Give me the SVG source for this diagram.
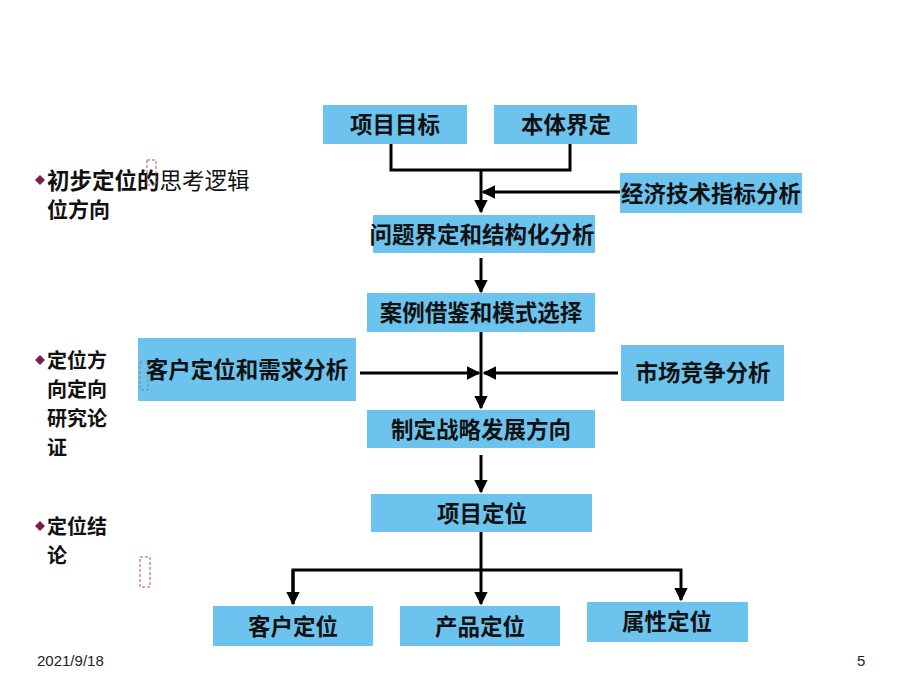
<svg xmlns="http://www.w3.org/2000/svg" width="920" height="690" viewBox="0 0 920 690">
<defs>
<style>
.box{fill:#6CC4EE}
.bt{font-family:"Liberation Sans","Noto Sans CJK SC",sans-serif;font-weight:bold;font-size:22.5px;fill:#111;text-anchor:middle}
.lt{font-family:"Liberation Sans","Noto Sans CJK SC",sans-serif;font-weight:bold;font-size:20px;fill:#111}
.ln{stroke:#000;stroke-width:3;fill:none}
.dash{fill:none;stroke:#C0504D;stroke-width:1;stroke-dasharray:3,2}
.ft{font-family:"Liberation Sans","Noto Sans CJK SC",sans-serif;font-size:15px;fill:#222}
</style>
<marker id="ah" viewBox="0 0 10 10" refX="9" refY="5" markerWidth="4.5" markerHeight="4.5" orient="auto" markerUnits="strokeWidth">
<path d="M0,0 L10,5 L0,10 z" fill="#000"/>
</marker>
</defs>
<rect width="920" height="690" fill="#fff"/>

<g id="connectors">
<path class="ln" d="M391,143 V170 H570 V143"/>
<path class="ln" d="M481,170 V212" marker-end="url(#ah)"/>
<path class="ln" d="M620,192 H483" marker-end="url(#ah)"/>
<path class="ln" d="M481,258 V292" marker-end="url(#ah)"/>
<path class="ln" d="M481,332 V408" marker-end="url(#ah)"/>
<path class="ln" d="M360,373 H479" marker-end="url(#ah)"/>
<path class="ln" d="M618,373 H484" marker-end="url(#ah)"/>
<path class="ln" d="M481,455 V492" marker-end="url(#ah)"/>
<path class="ln" d="M481,532 V604" marker-end="url(#ah)"/>
<path class="ln" d="M293,604 V570 H681 V600" marker-end="url(#ah)"/>
<path class="ln" d="M293,570 V604" marker-end="url(#ah)"/>
</g>

<g id="n-xiangmumubiao"><rect class="box" x="323" y="105" width="144" height="39"/><text class="bt" x="395" y="133">项目目标</text></g>
<g id="n-benti"><rect class="box" x="494" y="105" width="143" height="39"/><text class="bt" x="566" y="133">本体界定</text></g>
<g id="n-jingji"><rect class="box" x="620" y="173" width="182" height="40"/><text class="bt" x="711" y="202">经济技术指标分析</text></g>
<g id="n-wenti"><rect class="box" x="373" y="215" width="222" height="38"/><text class="bt" x="482" y="243">问题界定和结构化分析</text></g>
<g id="n-anli"><rect class="box" x="367" y="293" width="228" height="39"/><text class="bt" x="481" y="321">案例借鉴和模式选择</text></g>
<g id="n-kehufenxi"><rect class="box" x="138" y="338" width="218" height="63"/><text class="bt" x="247" y="378">客户定位和需求分析</text></g>
<g id="n-shichang"><rect class="box" x="621" y="345" width="163" height="56"/><text class="bt" x="703" y="381">市场竞争分析</text></g>
<g id="n-zhiding"><rect class="box" x="367" y="410" width="228" height="38"/><text class="bt" x="481" y="438">制定战略发展方向</text></g>
<g id="n-xiangmudingwei"><rect class="box" x="371" y="494" width="221" height="38"/><text class="bt" x="482" y="522">项目定位</text></g>
<g id="n-kehu"><rect class="box" x="213" y="606" width="160" height="40"/><text class="bt" x="293" y="635">客户定位</text></g>
<g id="n-chanpin"><rect class="box" x="400" y="606" width="160" height="40"/><text class="bt" x="480" y="635">产品定位</text></g>
<g id="n-shuxing"><rect class="box" x="587" y="602" width="161" height="40"/><text class="bt" x="667" y="630">属性定位</text></g>

<g id="left-notes">
<path d="M40,175 l5,5 l-5,5 l-5,-5 z" fill="#7A1E4E"/>
<text class="lt" x="47" y="189" style="font-size:22.5px">初步定位的<tspan style="font-weight:normal">思考逻辑</tspan></text>
<text class="lt" x="47" y="217" style="font-size:21px">位方向</text>
<path d="M40,355 l5,5 l-5,5 l-5,-5 z" fill="#7A1E4E"/>
<text class="lt" x="47" y="368">定位方</text>
<text class="lt" x="47" y="397">向定向</text>
<text class="lt" x="47" y="426">研究论</text>
<text class="lt" x="47" y="455">证</text>
<path d="M40,521 l5,5 l-5,5 l-5,-5 z" fill="#7A1E4E"/>
<text class="lt" x="47" y="534">定位结</text>
<text class="lt" x="47" y="563">论</text>
<rect class="dash" x="147" y="160" width="9" height="25"/>
<rect class="dash" x="140" y="362" width="8" height="28" style="stroke:#888"/>
<rect class="dash" x="140" y="557" width="10" height="30"/>
</g>

<text class="ft" x="37" y="666">2021/9/18</text>
<text class="ft" x="857" y="666">5</text>
</svg>
